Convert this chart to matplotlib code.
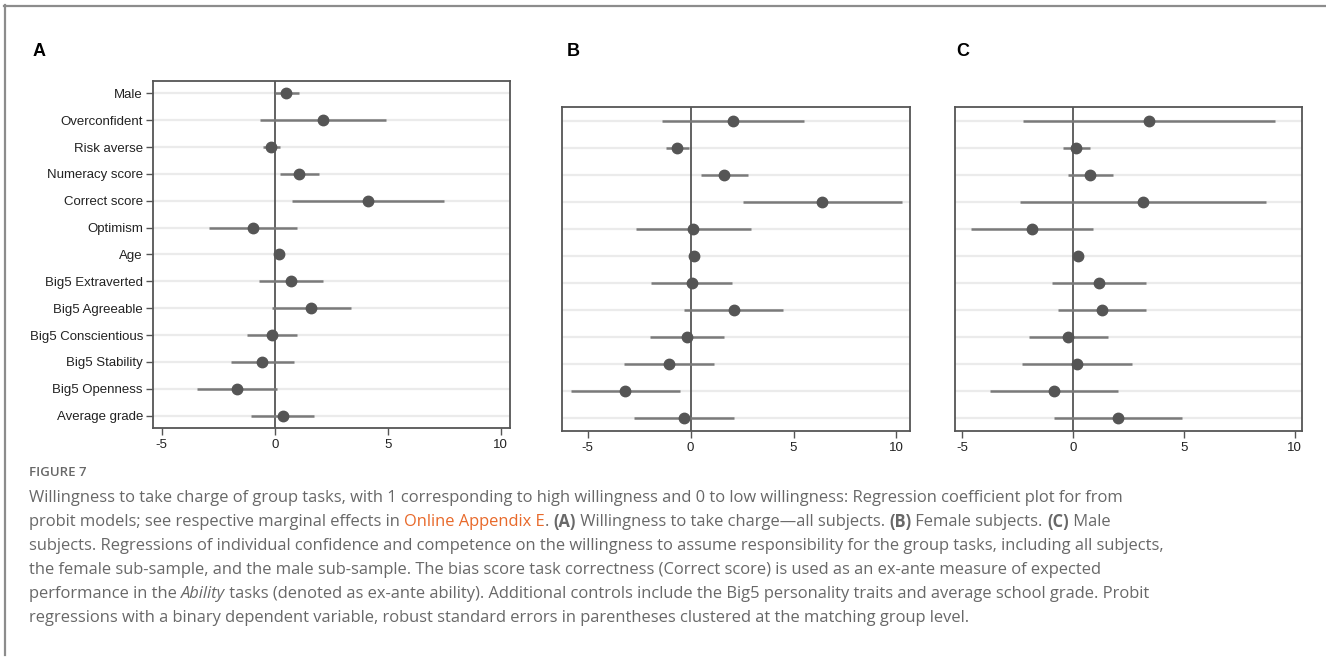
import matplotlib
matplotlib.use('Agg')
import matplotlib.pyplot as plt
from matplotlib.lines import Line2D

# variable names (top to bottom)
labels = ['Male', 'Overconfident', 'Risk averse', 'Numeracy score', 'Correct score', 'Optimism', 'Age',
          'Big5 Extraverted', 'Big5 Agreeable', 'Big5 Conscientious', 'Big5 Stability',
          'Big5 Openness', 'Average grade']

# panel A - all subjects
coef_a = [0.52, 2.12, -0.16, 1.09, 4.13, -0.97, 0.18, 0.74, 1.62, -0.12, -0.55, -1.65, 0.35]
lo_a = [0.00, -0.65, -0.53, 0.22, 0.77, -2.92, 0.07, -0.69, -0.12, -1.24, -1.92, -3.42, -1.05]
hi_a = [1.09, 4.93, 0.22, 1.98, 7.51, 0.99, 0.28, 2.14, 3.38, 0.99, 0.84, 0.10, 1.74]

# panel B - female subjects (no Male row)
coef_b = [2.04, -0.65, 1.64, 6.40, 0.13, 0.16, 0.05, 2.09, -0.18, -1.04, -3.18, -0.32]
lo_b = [-1.39, -1.20, 0.49, 2.53, -2.67, 0.08, -1.91, -0.31, -1.99, -3.26, -5.83, -2.76]
hi_b = [5.51, -0.06, 2.80, 10.26, 2.93, 0.25, 2.03, 4.51, 1.64, 1.15, -0.50, 2.12]

# panel C - male subjects (no Male row)
coef_c = [3.41, 0.14, 0.77, 3.16, -1.86, 0.24, 1.16, 1.31, -0.24, 0.18, -0.87, 2.02]
lo_c = [-2.27, -0.47, -0.24, -2.38, -4.62, 0.15, -0.95, -0.66, -2.00, -2.29, -3.76, -0.87]
hi_c = [9.10, 0.77, 1.79, 8.71, 0.90, 0.33, 3.31, 3.28, 1.56, 2.66, 2.02, 4.92]

xticks = [-5, 0, 5, 10]

W, H = 1326, 659
fig = plt.figure(figsize=(W / 100, H / 100), dpi=100)
plt.rcParams['font.family'] = ['Liberation Sans', 'DejaVu Sans']

dark = '#555555'
ci_col = '#7a7a7a'


def panel(rect, coef, lo, hi, ylim, xlim, show_labels):
    ax = fig.add_axes(rect)
    n = len(coef)
    offset = len(labels) - n
    ys = list(range(offset, len(labels)))
    for y in ys:
        ax.axhline(y, color='#ebebeb', lw=1.6, zorder=0)
    ax.axvline(0, color=dark, lw=1.3, zorder=1)
    ax.hlines(ys, lo, hi, color=ci_col, lw=1.8, zorder=2)
    ax.plot(coef, ys, 'o', color=dark, ms=7.5, zorder=3)
    ax.set_xlim(*xlim)
    ax.set_ylim(ylim[1], ylim[0])
    ax.set_xticks(xticks)
    ax.set_xticklabels([str(t) for t in xticks])
    ax.set_yticks(ys)
    ax.tick_params(axis='both', colors=dark, labelcolor='#222222', labelsize=9.5,
                   length=5, width=1.0, direction='out')
    ax.tick_params(axis='x', pad=3)
    if show_labels:
        ax.set_yticklabels(labels[offset:])
        ax.tick_params(axis='y', pad=2)
    else:
        ax.set_yticklabels([])
        ax.tick_params(axis='y', length=0)
    for s in ax.spines.values():
        s.set_color(dark)
        s.set_linewidth(1.3)
    return ax


def fx(px):
    return px / W


def fy(py):
    return 1 - py / H


panel([fx(152.7), fy(428), fx(510 - 152.7), (428 - 80.7) / H], coef_a, lo_a, hi_a,
      (-0.47, 12.46), (-5.4, 10.41), True)
panel([fx(562.3), fy(431), fx(910 - 562.3), (431 - 107.3) / H], coef_b, lo_b, hi_b,
      (0.51, 12.49), (-6.24, 10.66), False)
panel([fx(954.7), fy(431), fx(1302.3 - 954.7), (431 - 107.3) / H], coef_c, lo_c, hi_c,
      (0.51, 12.49), (-5.34, 10.35), False)

# panel letters
for letter, x in [('A', 33), ('B', 567), ('C', 956)]:
    fig.text(fx(x), fy(51), letter, fontsize=13, fontweight='bold', color='black',
             va='center', ha='left')

# outer frame lines (top and left)
fig.add_artist(Line2D([fx(4), 1], [fy(5.5), fy(5.5)], color='#8c8c8c', lw=1.6))
fig.add_artist(Line2D([fx(4.5), fx(4.5)], [fy(5), fy(655)], color='#8c8c8c', lw=1.6))

# caption
cap_col = '#686868'
link_col = '#e8692a'
cap_font = ['Open Sans', 'DejaVu Sans']
cap_size = 11.9
fig.text(fx(29), fy(473), 'FIGURE 7', fontsize=9.5, color=cap_col, family=cap_font,
         va='center', fontweight='semibold')

caption = [
    [('Willingness to take charge of group tasks, with 1 corresponding to high willingness and 0 to low '
      'willingness: Regression coefficient plot for from', 'n')],
    [('probit models; see respective marginal effects in ', 'n'), ('Online Appendix E', 'link'),
     ('. ', 'n'), ('(A)', 'b'), (' Willingness to take charge\u2014all subjects. ', 'n'), ('(B)', 'b'),
     (' Female subjects. ', 'n'), ('(C)', 'b'), (' Male', 'n')],
    [('subjects. Regressions of individual confidence and competence on the willingness to assume '
      'responsibility for the group tasks, including all subjects,', 'n')],
    [('the female sub-sample, and the male sub-sample. The bias score task correctness (Correct score) '
      'is used as an ex-ante measure of expected', 'n')],
    [('performance in the ', 'n'), ('Ability', 'i'), (' tasks (denoted as ex-ante ability). Additional '
      'controls include the Big5 personality traits and average school grade. Probit', 'n')],
    [('regressions with a binary dependent variable, robust standard errors in parentheses clustered '
      'at the matching group level.', 'n')],
]

renderer = fig.canvas.get_renderer()
line_y = [498, 522, 546, 570, 594, 618]
for segs, py in zip(caption, line_y):
    x = 29
    for txt, kind in segs:
        kw = dict(fontsize=cap_size, color=cap_col, family=cap_font, va='center', ha='left')
        if kind == 'link':
            kw['color'] = link_col
        elif kind == 'b':
            kw['fontweight'] = 'bold'
        elif kind == 'i':
            kw['style'] = 'italic'
        t = fig.text(fx(x), fy(py), txt, **kw)
        bb = t.get_window_extent(renderer=renderer)
        x = bb.x1

fig.savefig('out.png', dpi=100)
